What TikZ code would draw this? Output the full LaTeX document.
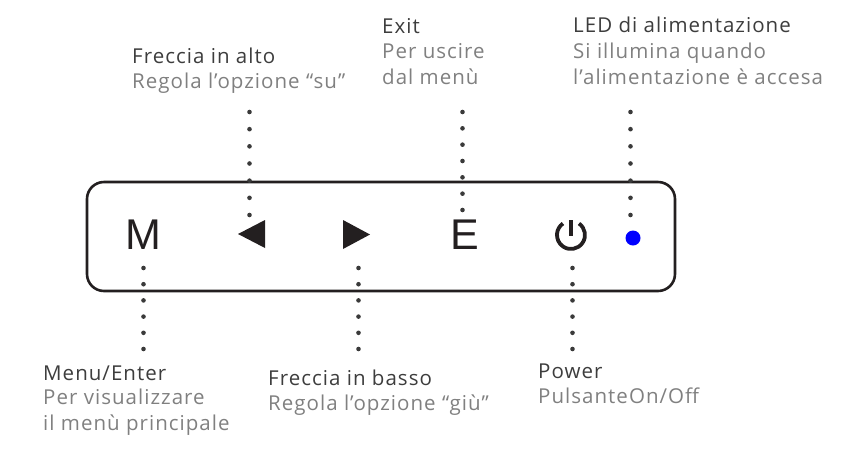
\documentclass[tikz,border=0pt]{standalone}
\usepackage{fontspec}
\setmainfont{Open Sans}
\newfontfamily\titlefont{Open Sans}[LetterSpace=5]
\newfontfamily\descfont{Open Sans}[LetterSpace=5]
\newfontfamily\keyfont{Liberation Sans}
\definecolor{keyblack}{HTML}{231F20}
\definecolor{titlegray}{HTML}{3D3D3D}
\definecolor{descgray}{HTML}{808080}
\definecolor{dotgray}{HTML}{3A3A3A}
\tikzset{
    title/.style={anchor=base west,inner sep=0pt,text=titlegray,font=\titlefont\fontsize{20.5}{25.5}\selectfont},
    desc/.style={anchor=base west,inner sep=0pt,text=descgray,align=left,font=\descfont\fontsize{20.5}{25.5}\selectfont},
    keylabel/.style={inner sep=0pt,text=keyblack,font=\keyfont\fontsize{43}{43}\selectfont},
    dots/.style={draw=dotgray,line width=4.6pt,line cap=round,dash pattern=on 0pt off #1}
}
\begin{document}
\begin{tikzpicture}[x=1pt,y=-1pt]
        \useasboundingbox (0,0) rectangle (857,451);
        \draw[keyblack,line width=2.6pt,rounded corners=17pt] (87,182) rectangle (675,291);
        \node[keylabel] (m) at (143.5,234.5) {M};
        \node[keylabel] (e) at (465,234.5) {E};
        \fill[keyblack] (238,234) -- (265,220) -- (265,248) -- cycle;
        \fill[keyblack] (343,220) -- (370,234.5) -- (343,249) -- cycle;
        \draw[keyblack,line width=3.8pt] (579,223.5) arc[start angle=-55,end angle=235,radius=14];
        \draw[keyblack,line width=3.8pt] (571,220) -- (571,236);
        \fill[blue] (633,238) circle (7.5pt);
        \foreach \name/\x/\a/\b/\n in {alto/249.5/112/215/7, exit/462.5/112/210/7, led/630.5/112/215/7,
            menu/143.5/268/349/6, basso/358.5/268/349/6, power/572.5/268/349/6}
        {
            \pgfmathsetmacro\gap{(\b-\a)/(\n-1)}
            \coordinate (\name-a) at (\x,\a);
            \coordinate (\name-b) at (\x,\b);
            \draw[dots=\gap pt] (\name-a) -- (\name-b);
        }
        \node[title] (alto-t) at (132,63) {Freccia in alto};
        \node[desc] (alto-d) at (132,88) {Regola l’opzione “su”};
        \node[title] (exit-t) at (382,33) {Exit};
        \node[desc] (exit-d) at (382,84) {Per uscire\\dal menù};
        \node[title] (led-t) at (573,32) {LED di alimentazione};
        \node[desc] (led-d) at (573,84) {Si illumina quando\\l’alimentazione è accesa};
        \node[title] (menu-t) at (43,380) {Menu/Enter};
        \node[desc] (menu-d) at (43,430) {Per visualizzare\\il menù principale};
        \node[title] (basso-t) at (268,385) {Freccia in basso};
        \node[desc] (basso-d) at (268,410) {Regola l’opzione “giù”};
        \node[title] (power-t) at (538,378) {Power};
        \node[desc] (power-d) at (538,403) {PulsanteOn/Off};
\end{tikzpicture}
\end{document}
